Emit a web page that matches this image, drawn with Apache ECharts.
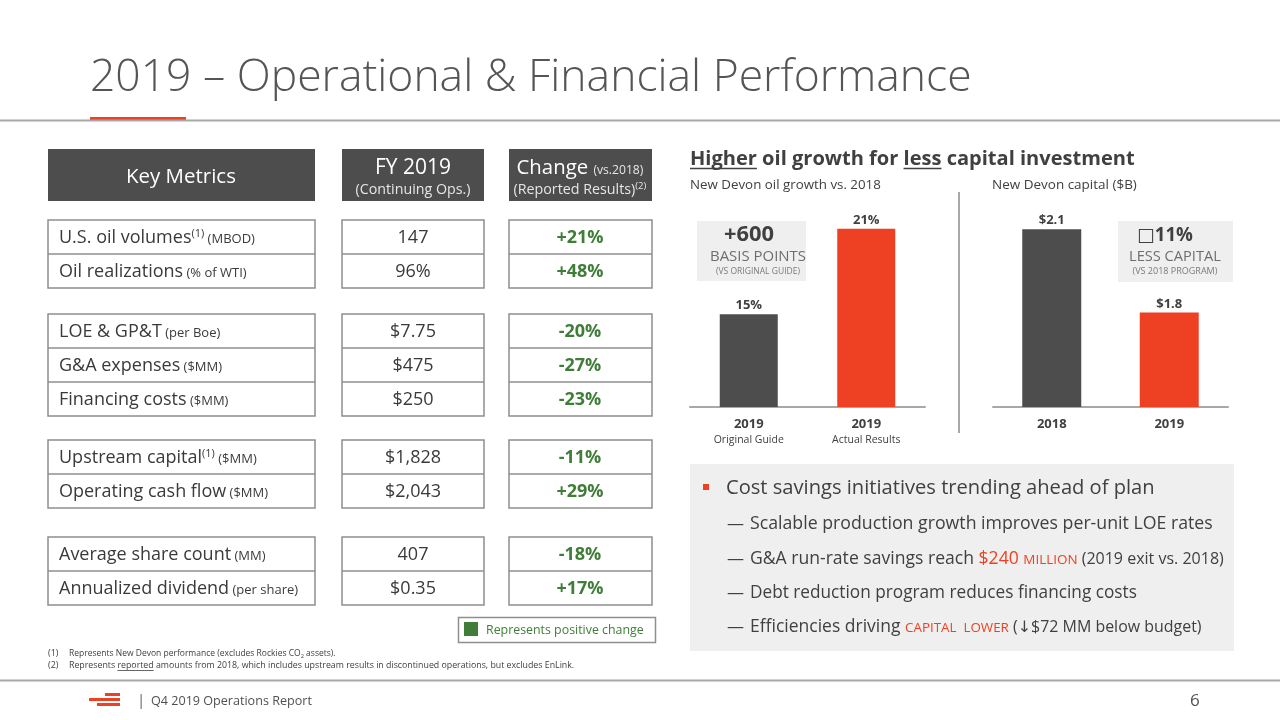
<!DOCTYPE html>
<html><head><meta charset="utf-8">
<script src="https://cdn.jsdelivr.net/npm/echarts@6/dist/echarts.min.js"></script>
<style>html,body{margin:0;padding:0;background:#fff}#c{width:1280px;height:720px}</style>
</head><body><div id="c"></div>
<script>
// ---------------- data ----------------
const titleText = '2019 – Operational & Financial Performance';
const metricNames = ['U.S. oil volumes', 'Oil realizations', 'LOE & GP&T', 'G&A expenses', 'Financing costs', 'Upstream capital', 'Operating cash flow', 'Average share count', 'Annualized dividend'];
const metricNotes = ['(1)', '', '', '', '', '(1)', '', '', ''];
const metricUnits = ['(MBOD)', '(% of WTI)', '(per Boe)', '($MM)', '($MM)', '($MM)', '($MM)', '(MM)', '(per share)'];
const fy2019Values = ['147', '96%', '$7.75', '$475', '$250', '$1,828', '$2,043', '407', '$0.35'];
const changeVs2018 = ['+21%', '+48%', '-20%', '-27%', '-23%', '-11%', '+29%', '-18%', '+17%'];
const rowGroupSizes = [2, 3, 2, 2];

const oilCategories = ['2019', '2019'];
const oilSubLabels = ['Original Guide', 'Actual Results'];
const oilGrowthPct = [15, 21];
const capitalCategories = ['2018', '2019'];
const capitalBillions = [2.1, 1.8];

const bulletMain = 'Cost savings initiatives trending ahead of plan';
const footnotes = ['Represents New Devon performance (excludes Rockies CO', 'Represents reported amounts from 2018, which includes upstream results in discontinued operations, but excludes EnLink.'];

// ---------------- styles ----------------
const FONT = '"Open Sans", "Noto Sans", "DejaVu Sans", sans-serif';
const DARK = '#4d4d4d', RED = '#ee4124', GREEN = '#3f7d38', TXT = '#404040', BORDER = '#8f8f8f';
const mctx = document.createElement('canvas').getContext('2d');
function mw(t, s, w) { mctx.font = (w || 'normal') + ' ' + s + 'px ' + FONT; return mctx.measureText(t).width; }
const BASE_K = 0.29;
const G = [];
function runs(x, yb, parts, opt) {
  opt = opt || {};
  let total = parts.reduce((a, p) => a + mw(p.t, p.s, p.w), 0);
  let scale = 1;
  if (opt.fit) { scale = opt.fit / total; total = opt.fit; }
  let cx = opt.align === 'center' ? x - total / 2 : opt.align === 'right' ? x - total : x;
  const out = [];
  parts.forEach(p => {
    const s = p.s * scale;
    const w = mw(p.t, s, p.w);
    G.push({ type: 'text', x: cx, y: yb - BASE_K * s - (p.sup ? p.sup : 0) + (p.sub ? p.sub : 0), silent: true, z: 10,
      style: { text: p.t, fontFamily: FONT, fontSize: s, fontWeight: p.w || 'normal', fill: p.c || TXT, align: 'left', verticalAlign: 'middle' } });
    out.push({ x0: cx, x1: cx + w });
    cx += w;
  });
  return out;
}
function rect(x, y, w, h, fill, stroke, lw) {
  G.push({ type: 'rect', silent: true, z: 1, shape: { x, y, width: w, height: h },
    style: { fill: fill || 'none', stroke: stroke || null, lineWidth: lw || 0 } });
}
function line(x1, y1, x2, y2, c, lw) {
  G.push({ type: 'line', silent: true, z: 2, shape: { x1, y1, x2, y2 }, style: { stroke: c, lineWidth: lw } });
}

// ---------------- slide chrome ----------------
runs(90, 91.5, [{ t: titleText, s: 48, w: 300, c: '#555555' }], { fit: 882 });
line(0, 120.5, 1280, 120.5, '#a8a8a8', 2);
rect(90, 117, 96, 4, RED);
line(0, 680.5, 1280, 680.5, '#a8a8a8', 2);
rect(105, 693, 15, 3, RED); rect(89, 698, 31, 3, RED); rect(97, 703, 23, 3, RED);
runs(137, 705, [{ t: '|', s: 15, c: '#666' }]);
runs(151, 705, [{ t: 'Q4 2019 Operations Report', s: 15, c: '#505050' }], { fit: 161 });
runs(1190, 706, [{ t: '6', s: 17, c: '#505050' }]);

// ---------------- table ----------------
const COLS = [[48, 315], [342, 484], [509, 652]];
rect(48, 149, 267, 52, DARK); rect(342, 149, 142, 52, DARK); rect(509, 149, 143, 52, DARK);
runs(181, 183, [{ t: 'Key Metrics', s: 22, c: '#fff' }], { align: 'center', fit: 110 });
runs(413, 174, [{ t: 'FY 2019', s: 21, c: '#fff' }], { align: 'center' });
runs(413, 194, [{ t: '(Continuing Ops.)', s: 13.5, c: '#e6e6e6' }], { align: 'center', fit: 115 });
runs(580, 174, [{ t: 'Change ', s: 21, c: '#fff' }, { t: '(vs.2018)', s: 12.5, c: '#e6e6e6' }], { align: 'center', fit: 127 });
runs(580, 194, [{ t: '(Reported Results)', s: 13.5, c: '#e6e6e6' }, { t: '(2)', s: 9, c: '#e6e6e6', sup: 5 }], { align: 'center', fit: 133 });

const GROUP_TOP = [220, 314, 440, 537], ROW_H = 34;
let idx = 0;
rowGroupSizes.forEach((n, g) => {
  const top = GROUP_TOP[g];
  COLS.forEach(([a, b]) => {
    rect(a, top, b - a, n * ROW_H, '#fff', BORDER, 1.5);
    for (let k = 1; k < n; k++) line(a, top + k * ROW_H, b, top + k * ROW_H, BORDER, 1.5);
  });
  for (let k = 0; k < n; k++, idx++) {
    const yb = top + k * ROW_H + ROW_H / 2 + 6.5;
    const parts = [{ t: metricNames[idx], s: 18, c: '#3a3a3a' }];
    if (metricNotes[idx]) parts.push({ t: metricNotes[idx], s: 11, c: '#3a3a3a', sup: 6 });
    parts.push({ t: ' ' + metricUnits[idx], s: 13, c: '#3a3a3a' });
    runs(59, yb, parts);
    runs(413, yb, [{ t: fy2019Values[idx], s: 18, c: '#3a3a3a' }], { align: 'center' });
    runs(580, yb, [{ t: changeVs2018[idx], s: 18, w: 'bold', c: GREEN }], { align: 'center' });
  }
});

// legend
rect(458.5, 617.5, 197, 25, '#fff', BORDER, 1.5);
rect(464, 622, 14, 14, GREEN);
runs(486, 634, [{ t: 'Represents positive change', s: 14, c: GREEN }], { fit: 158 });

// footnotes
runs(48, 656.5, [{ t: '(1)', s: 9, c: '#404040' }]);
runs(69, 656.5, [{ t: footnotes[0], s: 9, c: '#404040' }, { t: '2', s: 6, c: '#404040', sub: 2 }, { t: ' assets).', s: 9, c: '#404040' }], { fit: 267 });
runs(48, 668.5, [{ t: '(2)', s: 9, c: '#404040' }]);
const fn2 = footnotes[1].split('reported');
const fr = runs(69, 668.5, [{ t: fn2[0], s: 9 }, { t: 'reported', s: 9 }, { t: fn2[1], s: 9 }], { fit: 506 });
line(fr[1].x0, 670.5, fr[1].x1, 670.5, '#404040', 0.8);

// ---------------- right panel text ----------------
const hd = runs(690, 165, [{ t: 'Higher', s: 20, w: 'bold', c: TXT }, { t: ' oil growth for ', s: 20, w: 'bold', c: TXT }, { t: 'less', s: 20, w: 'bold', c: TXT }, { t: ' capital investment', s: 20, w: 'bold', c: TXT }], { fit: 445 });
line(hd[0].x0, 168.5, hd[0].x1, 168.5, TXT, 1.6);
line(hd[2].x0, 168.5, hd[2].x1, 168.5, TXT, 1.6);
runs(690, 189, [{ t: 'New Devon oil growth vs. 2018', s: 14, c: TXT }], { fit: 191 });
runs(992, 189, [{ t: 'New Devon capital ($B)', s: 14, c: TXT }], { fit: 145 });
line(959, 192, 959, 433, '#a8a8a8', 2);

rect(697, 221, 109, 60, '#efefef');
runs(724, 241, [{ t: '+600', s: 20, w: 'bold', c: TXT }], { fit: 50 });
runs(758, 261, [{ t: 'BASIS POINTS', s: 15, c: '#6e6e6e' }], { align: 'center', fit: 96 });
runs(758, 274, [{ t: '(VS ORIGINAL GUIDE)', s: 9, c: '#7a7a7a' }], { align: 'center', fit: 84 });
rect(1118, 221, 115, 61, '#efefef');
runs(1137, 241, [{ t: '□11%', s: 20, w: 'bold', c: TXT }], { fit: 56 });
runs(1175, 261, [{ t: 'LESS CAPITAL', s: 15, c: '#6e6e6e' }], { align: 'center', fit: 92 });
runs(1175, 274, [{ t: '(VS 2018 PROGRAM)', s: 9, c: '#7a7a7a' }], { align: 'center', fit: 85 });

// bullets box
rect(690, 464, 544, 187, '#efefef');
rect(703, 484, 6, 6, RED);
runs(726, 494, [{ t: bulletMain, s: 21, c: TXT }], { fit: 429 });
const subs = [
  [{ t: 'Scalable production growth improves per-unit LOE rates', s: 17 }],
  [{ t: 'G&A run-rate savings reach ', s: 17 }, { t: '$240 ', s: 17, c: RED }, { t: 'MILLION', s: 13, c: RED }, { t: ' (2019 exit vs. 2018)', s: 15.5 }],
  [{ t: 'Debt reduction program reduces financing costs', s: 17 }],
  [{ t: 'Efficiencies driving ', s: 17 }, { t: 'CAPITAL  LOWER', s: 13, c: RED }, { t: ' (↓$72 MM below budget)', s: 15.5 }]
];
const subFits = [463, 474, 387, 452];
const subY = [529, 564, 598, 632];
subs.forEach((p, i) => {
  runs(727, subY[i], [{ t: '—', s: 17, c: TXT }]);
  runs(750, subY[i], p.map(q => Object.assign({ c: TXT }, q)), { fit: subFits[i] });
});

// ---------------- charts ----------------
const barColors = [DARK, RED];
const axisLine = { show: true, lineStyle: { color: '#a8a8a8', width: 2 } };
const catLabel = {
  margin: 9, interval: 0, color: TXT, fontFamily: FONT,
  formatter: v => { const p = v.split('\n'); return '{y|' + p[0] + '}' + (p[1] ? '\n{s|' + p[1] + '}' : ''); },
  rich: { y: { fontSize: 13, fontWeight: 'bold', color: TXT, fontFamily: FONT, lineHeight: 16 },
          s: { fontSize: 10.5, color: TXT, fontFamily: FONT, lineHeight: 16 } }
};
const valLabel = { show: true, position: 'top', distance: 2, color: TXT, fontFamily: FONT, fontWeight: 'bold', fontSize: 13 };

const option = {
  animation: false,
  backgroundColor: '#ffffff',
  grid: [
    { left: 690, width: 235, top: 193, bottom: 313 },
    { left: 993, width: 235, top: 193, bottom: 313 }
  ],
  xAxis: [
    { gridIndex: 0, type: 'category', data: oilCategories.map((c, i) => c + '\n' + oilSubLabels[i]), axisTick: { show: false }, axisLine, axisLabel: catLabel },
    { gridIndex: 1, type: 'category', data: capitalCategories, axisTick: { show: false }, axisLine, axisLabel: catLabel }
  ],
  yAxis: [
    { gridIndex: 0, type: 'value', min: 8.5, max: 23.5, show: false, splitLine: { show: false } },
    { gridIndex: 1, type: 'value', min: 1.46, max: 2.23, show: false, splitLine: { show: false } }
  ],
  series: [
    { type: 'bar', xAxisIndex: 0, yAxisIndex: 0, barWidth: 58,
      data: oilGrowthPct.map((v, i) => ({ value: v, itemStyle: { color: barColors[i] } })),
      label: Object.assign({ formatter: '{c}%' }, valLabel) },
    { type: 'bar', xAxisIndex: 1, yAxisIndex: 1, barWidth: 59,
      data: capitalBillions.map((v, i) => ({ value: v, itemStyle: { color: barColors[i] } })),
      label: Object.assign({ formatter: p => '$' + p.value.toFixed(1) }, valLabel) }
  ],
  graphic: G
};
const chart = echarts.init(document.getElementById('c'), null, { renderer: 'canvas' });
chart.setOption(option);
</script>
</body></html>
